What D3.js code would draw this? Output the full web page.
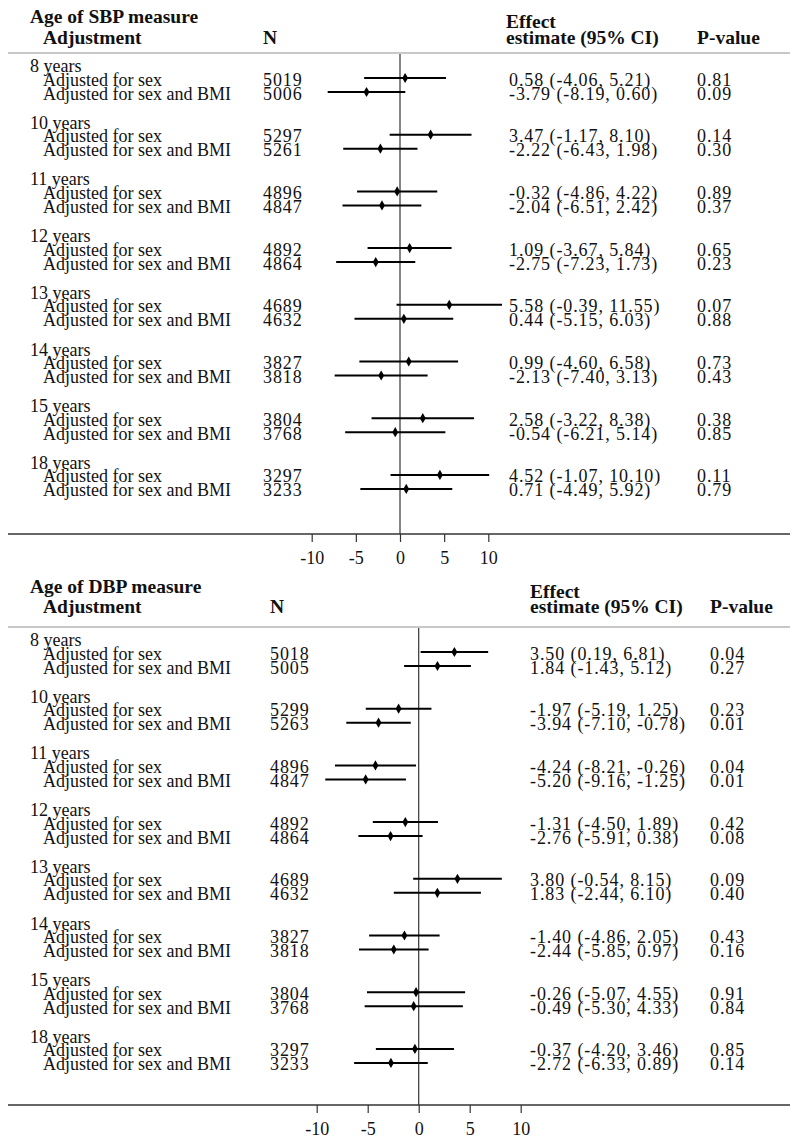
<!DOCTYPE html>
<html>
<head>
<meta charset="utf-8">
<script src="https://cdn.jsdelivr.net/npm/d3@7"></script>
<style>
  body { margin: 0; background: #fff; }
  svg text { font-family: "Liberation Serif", serif; fill: #111; }
  .hdr { font-weight: bold; font-size: 19.5px; }
  .txt { font-size: 18px; }
  .num { letter-spacing: 0.9px; }
</style>
</head>
<body>
<script>
// Data
const ageLabels = ["8 years", "10 years", "11 years", "12 years", "13 years", "14 years", "15 years", "18 years"];
const adjLabels = ["Adjusted for sex", "Adjusted for sex and BMI"];
const tickValues = [-10, -5, 0, 5, 10];

// SBP (two rows per age: sex, sex + BMI)
const sbpN   = [5019, 5006, 5297, 5261, 4896, 4847, 4892, 4864, 4689, 4632, 3827, 3818, 3804, 3768, 3297, 3233];
const sbpEst = [0.58, -3.79, 3.47, -2.22, -0.32, -2.04, 1.09, -2.75, 5.58, 0.44, 0.99, -2.13, 2.58, -0.54, 4.52, 0.71];
const sbpLo  = [-4.06, -8.19, -1.17, -6.43, -4.86, -6.51, -3.67, -7.23, -0.39, -5.15, -4.60, -7.40, -3.22, -6.21, -1.07, -4.49];
const sbpHi  = [5.21, 0.60, 8.10, 1.98, 4.22, 2.42, 5.84, 1.73, 11.55, 6.03, 6.58, 3.13, 8.38, 5.14, 10.10, 5.92];
const sbpP   = [0.81, 0.09, 0.14, 0.30, 0.89, 0.37, 0.65, 0.23, 0.07, 0.88, 0.73, 0.43, 0.38, 0.85, 0.11, 0.79];

// DBP
const dbpN   = [5018, 5005, 5299, 5263, 4896, 4847, 4892, 4864, 4689, 4632, 3827, 3818, 3804, 3768, 3297, 3233];
const dbpEst = [3.50, 1.84, -1.97, -3.94, -4.24, -5.20, -1.31, -2.76, 3.80, 1.83, -1.40, -2.44, -0.26, -0.49, -0.37, -2.72];
const dbpLo  = [0.19, -1.43, -5.19, -7.10, -8.21, -9.16, -4.50, -5.91, -0.54, -2.44, -4.86, -5.85, -5.07, -5.30, -4.20, -6.33];
const dbpHi  = [6.81, 5.12, 1.25, -0.78, -0.26, -1.25, 1.89, 0.38, 8.15, 6.10, 2.05, 0.97, 4.55, 4.33, 3.46, 0.89];
const dbpP   = [0.04, 0.27, 0.23, 0.01, 0.04, 0.01, 0.42, 0.08, 0.09, 0.40, 0.43, 0.16, 0.91, 0.84, 0.85, 0.14];

const width = 800, height = 1146;

const svg = d3.select("body")
    .append("svg")
    .attr("width", width)
    .attr("height", height);

// layout of the two panels
const panels = [
  { title: "Age of SBP measure", n: sbpN, est: sbpEst, lo: sbpLo, hi: sbpHi, p: sbpP,
    titleY: 23, hdrY: 44, effY: 28, sepY: 53, firstY: 72, axisY: 534,
    nX: 263, effX: 506, valX: 509, pX: 697, xRange: [311.7, 488.3] },
  { title: "Age of DBP measure", n: dbpN, est: dbpEst, lo: dbpLo, hi: dbpHi, p: dbpP,
    titleY: 593, hdrY: 613, effY: 598, sepY: 627, firstY: 646, axisY: 1105,
    nX: 270, effX: 530, valX: 530, pX: 710, xRange: [316.7, 520.7] }
];

const groupStep = 56.7;
const rowOffsets = [13.5, 27.5];
const fmt = v => v.toFixed(2);

panels.forEach(pn => {
  const g = svg.append("g");

  const x = d3.scaleLinear().domain([-10, 10]).range(pn.xRange);

  // build rows from arrays
  const rows = pn.n.map((n, i) => ({
    age: Math.floor(i / 2),
    k: i % 2,
    n: n, est: pn.est[i], lo: pn.lo[i], hi: pn.hi[i], p: pn.p[i]
  }));
  const baseY = d => pn.firstY + d.age * groupStep + rowOffsets[d.k];

  // header
  g.append("text").attr("class", "hdr").attr("x", 30).attr("y", pn.titleY).text(pn.title);
  g.append("text").attr("class", "hdr").attr("x", 43).attr("y", pn.hdrY).text("Adjustment");
  g.append("text").attr("class", "hdr").attr("x", pn.nX).attr("y", pn.hdrY).text("N");
  g.append("text").attr("class", "hdr").attr("x", pn.effX).attr("y", pn.effY).text("Effect");
  g.append("text").attr("class", "hdr").attr("x", pn.effX).attr("y", pn.hdrY).text("estimate (95% CI)");
  g.append("text").attr("class", "hdr").attr("x", pn.pX).attr("y", pn.hdrY).text("P-value");

  // separator + axis base line
  g.append("line")
      .attr("x1", 8).attr("x2", 790)
      .attr("y1", pn.sepY).attr("y2", pn.sepY)
      .attr("stroke", "#c8c8c8").attr("stroke-width", 2);
  g.append("line")
      .attr("x1", 8).attr("x2", 790)
      .attr("y1", pn.axisY).attr("y2", pn.axisY)
      .attr("stroke", "#333").attr("stroke-width", 1.3);

  // zero line
  g.append("line")
      .attr("x1", x(0)).attr("x2", x(0))
      .attr("y1", pn.sepY + 1).attr("y2", pn.axisY)
      .attr("stroke", "#333").attr("stroke-width", 1.2);

  // age group labels
  g.selectAll(".age")
    .data(ageLabels)
    .enter().append("text")
      .attr("class", "txt")
      .attr("x", 30)
      .attr("y", (d, i) => pn.firstY + i * groupStep)
      .text(d => d);

  // row texts
  g.selectAll(".adj").data(rows).enter().append("text")
      .attr("class", "txt").attr("x", 43).attr("y", baseY)
      .text(d => adjLabels[d.k]);
  g.selectAll(".n").data(rows).enter().append("text")
      .attr("class", "txt num").attr("x", pn.nX).attr("y", baseY)
      .text(d => d.n);
  g.selectAll(".eff").data(rows).enter().append("text")
      .attr("class", "txt num").attr("x", pn.valX).attr("y", baseY)
      .text(d => `${fmt(d.est)} (${fmt(d.lo)}, ${fmt(d.hi)})`);
  g.selectAll(".pv").data(rows).enter().append("text")
      .attr("class", "txt num").attr("x", pn.pX).attr("y", baseY)
      .text(d => fmt(d.p));

  // CI lines and points
  g.selectAll(".ci").data(rows).enter().append("line")
      .attr("x1", d => x(d.lo)).attr("x2", d => x(d.hi))
      .attr("y1", d => baseY(d) - 7.5).attr("y2", d => baseY(d) - 7.5)
      .attr("stroke", "#000").attr("stroke-width", 2);
  g.selectAll(".pt").data(rows).enter().append("path")
      .attr("d", d3.symbol().type(d3.symbolDiamond).size(30))
      .attr("transform", d => `translate(${x(d.est)},${baseY(d) - 7.5})`)
      .attr("fill", "#000");

  // x axis ticks
  const axis = g.append("g")
      .attr("transform", `translate(0,${pn.axisY})`)
      .call(d3.axisBottom(x).tickValues(tickValues).tickSize(8).tickPadding(9).tickFormat(d3.format("d")));
  axis.select(".domain").remove();
  axis.selectAll("line").attr("stroke", "#333").attr("stroke-width", 1.2);
  axis.selectAll("text")
      .attr("class", "txt")
      .style("font-family", "Liberation Serif, serif")
      .style("font-size", "18px")
      .attr("fill", "#111")
      .text(d => String(d).replace("\u2212", "-"));
});
</script>
</body>
</html>
